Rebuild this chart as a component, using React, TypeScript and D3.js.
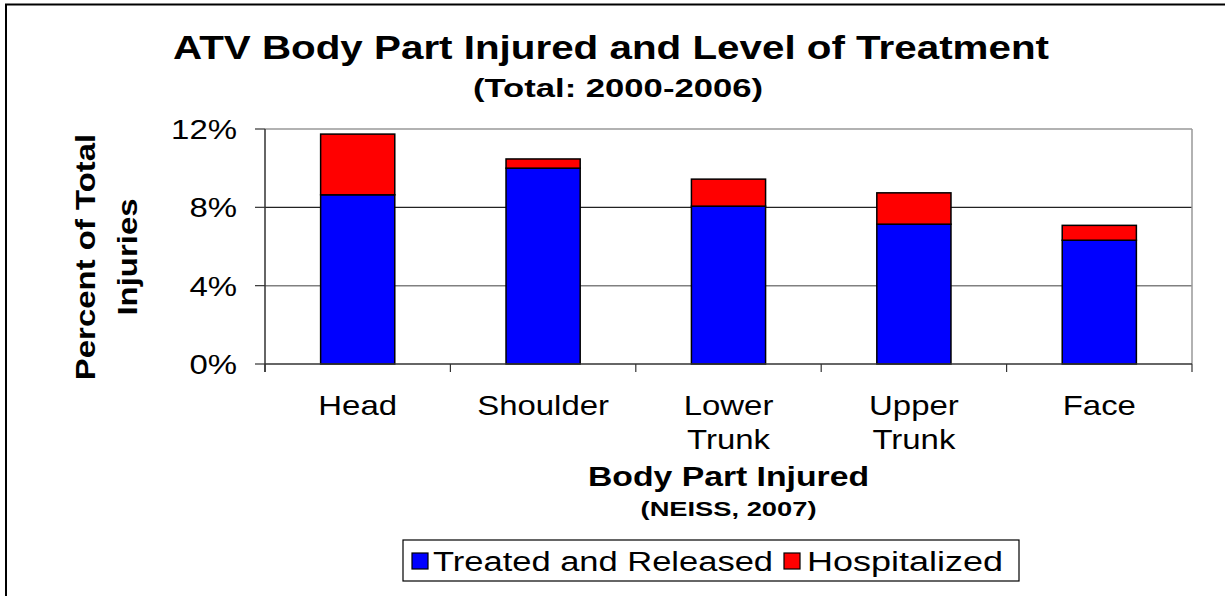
import React from "react";
import * as d3 from "d3";

const categories = ["Head", "Shoulder", "Lower Trunk", "Upper Trunk", "Face"];
const categoryLines = [["Head"], ["Shoulder"], ["Lower", "Trunk"], ["Upper", "Trunk"], ["Face"]];
const treatedReleased = [8.64, 10.0, 8.06, 7.14, 6.32];
const hospitalized = [3.1, 0.47, 1.38, 1.6, 0.76];
const yTicks = [0, 4, 8, 12];
const seriesNames = ["Treated and Released", "Hospitalized"];
const seriesColors = ["#0000FF", "#FF0000"];

const W = 1225;
const H = 596;
const M = { left: 265, right: 1192, top: 129, bottom: 364 };
const FONT = "'Liberation Sans', Arial, sans-serif";

function SText(props: {
  x: number;
  y: number;
  sx?: number;
  size: number;
  bold?: boolean;
  anchor?: "start" | "middle" | "end";
  children: React.ReactNode;
}) {
  const { x, y, sx = 1, size, bold, anchor = "start", children } = props;
  return (
    <g transform={`translate(${x},${y}) scale(${sx},1)`}>
      <text x={0} y={0} textAnchor={anchor} fontSize={size} fontWeight={bold ? "bold" : "normal"}>
        {children}
      </text>
    </g>
  );
}

export default function App() {
  const x = d3
    .scaleBand<string>()
    .domain(categories)
    .range([M.left, M.right])
    .paddingInner(0.6)
    .paddingOuter(0.3);
  const y = d3.scaleLinear().domain([0, 12]).range([M.bottom, M.top]);
  const step = x.step();
  const bw = x.bandwidth();
  const boundaries = d3.range(categories.length + 1).map((i) => M.left + i * step);

  const stack = categories.map((c, i) => ({
    cat: c,
    segs: [
      { y0: 0, y1: treatedReleased[i], color: seriesColors[0] },
      { y0: treatedReleased[i], y1: treatedReleased[i] + hospitalized[i], color: seriesColors[1] },
    ],
  }));

  const plotCenterX = (M.left + M.right) / 2;
  const tickSx = 1.22;
  const legendItems = [
    { sq: 412, tx: 433, len: 340 },
    { sq: 784, tx: 807, len: 196 },
  ];

  return (
    <svg width={W} height={H} style={{ position: "absolute", left: 0, top: 0 }} fontFamily={FONT}>
      <rect x={0} y={0} width={W} height={H} fill="#fff" />
      <rect x={6} y={4.5} width={W + 20} height={H + 20} fill="none" stroke="#000" strokeWidth={2} />

      {/* Title */}
      <text x={611} y={59} textAnchor="middle" fontSize={33} fontWeight="bold" textLength={876} lengthAdjust="spacingAndGlyphs">
        ATV Body Part Injured and Level of Treatment
      </text>
      <text x={618} y={97} textAnchor="middle" fontSize={25} fontWeight="bold" textLength={290} lengthAdjust="spacingAndGlyphs">
        (Total: 2000-2006)
      </text>

      {/* gridlines */}
      {yTicks.filter((t) => t > 0 && t < 12).map((t) => (
        <line key={t} x1={M.left} x2={M.right} y1={y(t)} y2={y(t)} stroke={t === 8 ? "#222" : "#808080"} strokeWidth={t === 8 ? 1.2 : 1.5} />
      ))}
      {/* plot frame top & right */}
      <line x1={M.left} x2={M.right} y1={M.top} y2={M.top} stroke="#999" strokeWidth={1.5} />
      <line x1={M.right} x2={M.right} y1={M.top} y2={M.bottom} stroke="#999" strokeWidth={1.5} />

      {/* bars */}
      {stack.map((s) => (
        <g key={s.cat}>
          {s.segs.map((seg, j) => (
            <rect
              key={j}
              x={x(s.cat)}
              y={y(seg.y1)}
              width={bw}
              height={y(seg.y0) - y(seg.y1)}
              fill={seg.color}
              stroke="#000"
              strokeWidth={1.5}
            />
          ))}
        </g>
      ))}

      {/* y axis */}
      <line x1={M.left} x2={M.left} y1={M.top} y2={M.bottom + 8} stroke="#333" strokeWidth={1.5} />
      {yTicks.map((t) => (
        <g key={t}>
          <line x1={M.left - 10} x2={M.left} y1={y(t)} y2={y(t)} stroke="#333" strokeWidth={1.2} />
          <SText x={237} y={y(t) + 10} sx={tickSx} size={27} anchor="end">
            {`${t}%`}
          </SText>
        </g>
      ))}

      {/* x axis */}
      <line x1={M.left} x2={M.right} y1={M.bottom} y2={M.bottom} stroke="#333" strokeWidth={1.5} />
      {boundaries.map((bx, i) => (
        <line key={i} x1={bx} x2={bx} y1={M.bottom} y2={M.bottom + 8} stroke="#333" strokeWidth={1.2} />
      ))}
      {categories.map((c, i) => (
        <g key={c}>
          {categoryLines[i].map((ln, k) => (
            <SText key={k} x={(x(c) as number) + bw / 2} y={415 + k * 34} sx={tickSx} size={27} anchor="middle">
              {ln}
            </SText>
          ))}
        </g>
      ))}

      {/* axis titles */}
      <SText x={plotCenterX} y={486} sx={1.25} size={27} bold anchor="middle">
        Body Part Injured
      </SText>
      <SText x={plotCenterX} y={516} sx={1.3} size={21} bold anchor="middle">
        (NEISS, 2007)
      </SText>
      <g transform={`translate(95, 257) rotate(-90) scale(1.22,1)`}>
        <text x={0} y={0} textAnchor="middle" fontSize={27} fontWeight="bold">
          Percent of Total
        </text>
        <text x={0} y={42} textAnchor="middle" fontSize={27} fontWeight="bold">
          Injuries
        </text>
      </g>

      {/* legend */}
      <rect x={403} y={540} width={616} height={41} fill="#fff" stroke="#000" strokeWidth={1.2} />
      {seriesNames.map((n, i) => {
        const it = legendItems[i];
        return (
          <g key={n}>
            <rect x={it.sq} y={553} width={16} height={16} fill={seriesColors[i]} stroke="#000" strokeWidth={1.2} />
            <text x={it.tx} y={571} fontSize={27} textLength={it.len} lengthAdjust="spacingAndGlyphs">
              {n}
            </text>
          </g>
        );
      })}
    </svg>
  );
}
